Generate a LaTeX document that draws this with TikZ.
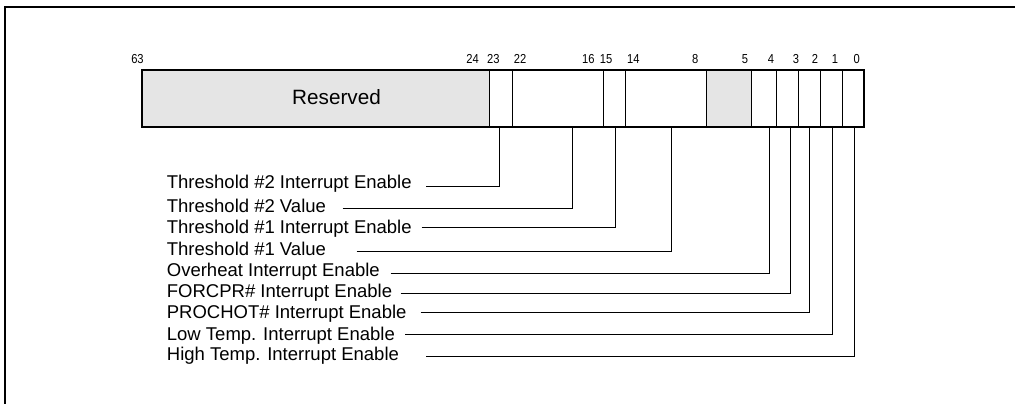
\documentclass[tikz,border=0pt]{standalone}
\usepackage{fontspec}
\setmainfont{Liberation Sans}
\newfontfamily\bitfont[FakeStretch=0.86]{Liberation Sans}
\definecolor{resgrey}{HTML}{E5E5E5}
\begin{document}
\begin{tikzpicture}[x=1pt,y=-1pt,
  field/.style={draw,line width=1pt,inner sep=0pt,anchor=north west,minimum height=55.7pt},
  bitno/.style={anchor=base,inner sep=0pt,font=\bitfont\fontsize{13}{13}\selectfont},
  lbl/.style={anchor=base west,inner sep=0pt,font=\fontsize{18.5}{20}\selectfont},
  leader/.style={line width=1pt},
  frameline/.style={line width=2.2pt}]
\useasboundingbox (0,0) rectangle (1015,404);
% outer frame (top and left edges visible)
\coordinate (fl) at (4.7,404);
\coordinate (ft) at (4.7,7.3);
\coordinate (fr) at (1015,7.3);
\draw[frameline] (fl) -- (ft) -- (fr);
% fields
\node[field,fill=resgrey,minimum width=347.3pt] (fres) at (142,70) {};
\node[field,minimum width=23pt]   (f23) at (489.3,70) {};
\node[field,minimum width=91pt]   (f22) at (512.3,70) {};
\node[field,minimum width=22pt]   (f15) at (603.3,70) {};
\node[field,minimum width=80.4pt] (f14) at (625.3,70) {};
\node[field,fill=resgrey,minimum width=45.3pt] (f7) at (705.7,70) {};
\node[field,minimum width=24.7pt] (f4) at (751,70) {};
\node[field,minimum width=22.6pt] (f3) at (775.7,70) {};
\node[field,minimum width=21.7pt] (f2) at (798.3,70) {};
\node[field,minimum width=22.3pt] (f1) at (820,70) {};
\node[field,minimum width=21pt]   (f0) at (842.3,70) {};
\draw[line width=2pt] (fres.north west) rectangle (f0.south east);
\node[font=\fontsize{20.7}{22}\selectfont,inner sep=0pt] (res) at (336.5,96.7) {Reserved};
% bit numbers
\node[bitno] (n63) at (137.5,64) {63};
\node[bitno] (n24) at (472.7,64) {24};
\node[bitno] (n23) at (493.3,64) {23};
\node[bitno] (n22) at (520,64) {22};
\node[bitno] (n16) at (588.3,64) {16};
\node[bitno] (n15) at (606,64) {15};
\node[bitno] (n14) at (633.3,64) {14};
\node[bitno] (n8) at (695.3,64) {8};
\node[bitno] (n5) at (745,64) {5};
\node[bitno] (n4) at (771,64) {4};
\node[bitno] (n3) at (796,64) {3};
\node[bitno] (n2) at (815,64) {2};
\node[bitno] (n1) at (835,64) {1};
\node[bitno] (n0) at (856.7,64) {0};
% labels
\node[lbl] (l1) at (166.7,188.3) {Threshold \#2 Interrupt Enable};
\node[lbl] (l2) at (166.7,212.3) {Threshold \#2 Value};
\node[lbl] (l3) at (166.7,233.3) {Threshold \#1 Interrupt Enable};
\node[lbl] (l4) at (166.7,255)   {Threshold \#1 Value};
\node[lbl] (l5) at (166.7,276.7) {Overheat Interrupt Enable};
\node[lbl] (l6) at (166.7,297.3) {FORCPR\# Interrupt Enable};
\node[lbl] (l7) at (166.7,318.3) {PROCHOT\# Interrupt Enable};
\node[lbl] (l8) at (166.7,340)   {Low Temp. Interrupt Enable};
\node[lbl] (l9) at (166.7,360.7) {High Temp. Interrupt Enable};
% leader start points
\coordinate (s1) at (426,186.7);
\coordinate (s2) at (342.7,208.3);
\coordinate (s3) at (421.7,227.7);
\coordinate (s4) at (356.7,251);
\coordinate (s5) at (390.7,273.7);
\coordinate (s6) at (400.7,293);
\coordinate (s7) at (420.7,312.3);
\coordinate (s8) at (405,334);
\coordinate (s9) at (426,356);
% leader end points on the register bottom
\coordinate (t1) at (499.3,125.7);
\coordinate (t2) at (572.3,125.7);
\coordinate (t3) at (615.3,125.7);
\coordinate (t4) at (671.3,125.7);
\coordinate (t5) at (769.3,125.7);
\coordinate (t6) at (790.3,125.7);
\coordinate (t7) at (809.3,125.7);
\coordinate (t8) at (832.3,125.7);
\coordinate (t9) at (854.3,125.7);
\foreach \i in {1,...,9} {\draw[leader] (s\i) -| (t\i);}
\end{tikzpicture}
\end{document}
